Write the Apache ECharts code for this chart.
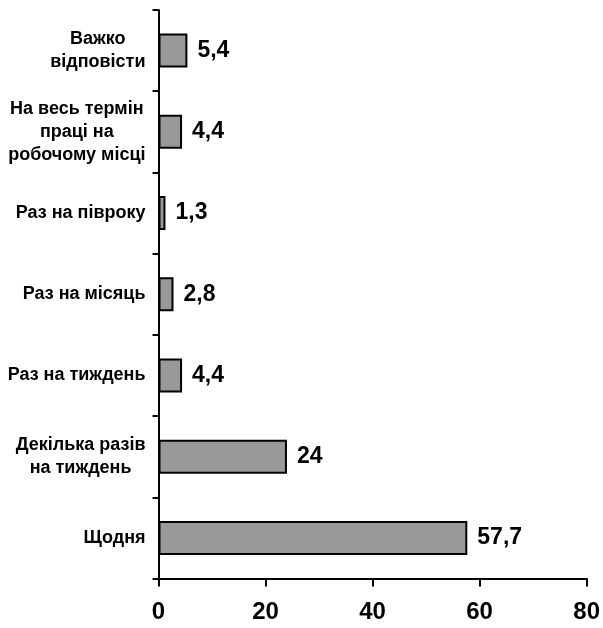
<!DOCTYPE html>
<html><head><meta charset="utf-8">
<script src="https://cdn.jsdelivr.net/npm/echarts@6/dist/echarts.min.js"></script>
<style>html,body{margin:0;padding:0;background:#fff}#c{width:603px;height:628px}</style>
</head><body><div id="c"></div>
<script>
const categories = ["Щодня", "Декілька разів\nна тиждень", "Раз на тиждень", "Раз на місяць", "Раз на півроку", "На весь термін\nпраці на\nробочому місці", "Важко\nвідповісти"];
const values = [57.7, 24, 4.4, 2.8, 1.3, 4.4, 5.4];
const xTicks = [0, 20, 40, 60, 80];

const chart = echarts.init(document.getElementById('c'), null, {renderer: 'canvas'});
const font = 'Liberation Sans, Arial, sans-serif';
chart.setOption({
  animation: false,
  backgroundColor: '#ffffff',
  grid: {left: 158.5, right: 16, top: 10, bottom: 49.5, containLabel: false},
  xAxis: {
    type: 'value', min: xTicks[0], max: xTicks[xTicks.length - 1], interval: 20,
    axisLine: {show: true, lineStyle: {color: '#000', width: 2}},
    axisTick: {show: true, length: 8, lineStyle: {color: '#000', width: 2}},
    splitLine: {show: false},
    axisLabel: {color: '#000', fontFamily: font, fontWeight: 'bold', fontSize: 24, margin: 22}
  },
  yAxis: {
    type: 'category', data: categories,
    axisLine: {show: true, onZero: false, lineStyle: {color: '#000', width: 2}},
    axisTick: {show: true, inside: false, length: 6, lineStyle: {color: '#000', width: 2}},
    axisLabel: {
      color: '#000', fontFamily: font, fontWeight: 'bold', fontSize: 18, lineHeight: 23, margin: 13, align: 'right',
      formatter: v => v.split('\n').map(s => '{c|' + s + '}').join('\n'),
      rich: {c: {align: 'center', color: '#000', fontFamily: font, fontWeight: 'bold', fontSize: 18, lineHeight: 23}}
    }
  },
  series: [{
    type: 'bar', data: values, barWidth: 34,
    itemStyle: {color: '#999999', borderColor: '#000', borderWidth: 2},
    label: {show: true, position: 'right', distance: 10, color: '#000', fontFamily: font, fontWeight: 'bold', fontSize: 23,
      formatter: p => String(p.value).replace('.', ',')}
  }]
});
</script></body></html>
